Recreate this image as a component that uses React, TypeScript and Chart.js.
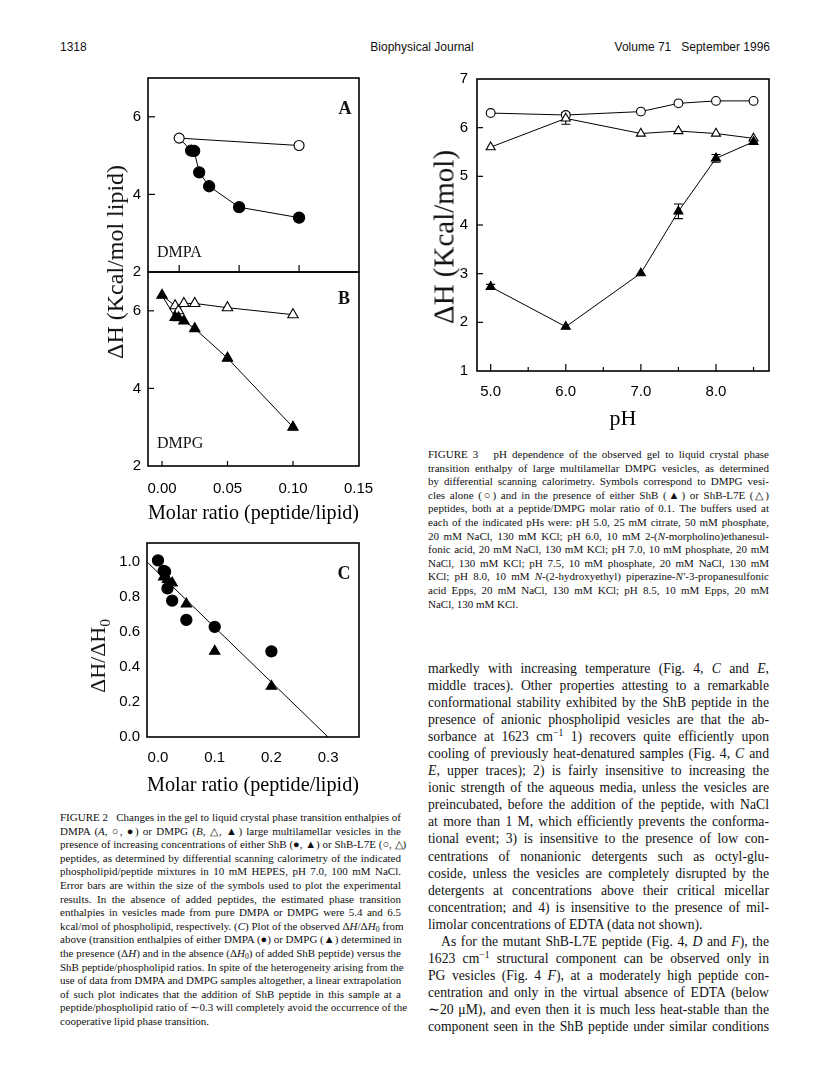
import React, { useEffect, useRef } from 'react';
import { Chart, registerables } from 'chart.js';

Chart.register(...registerables);

const SERIF = "'Liberation Serif', 'Times New Roman', Times, serif";
const SANS = "'Liberation Sans', Arial, Helvetica, sans-serif";

// ---------- Figure 2A (DMPA) ----------
const ratioA_L7E = [0, 0.1];
const dhA_L7E = [5.45, 5.26];
const ratioA_ShB = [0, 0.01, 0.0125, 0.0167, 0.025, 0.05, 0.1];
const dhA_ShB = [5.45, 5.13, 5.12, 4.57, 4.21, 3.67, 3.4];

// ---------- Figure 2B (DMPG) ----------
const ratioB = [0, 0.01, 0.0125, 0.0167, 0.025, 0.05, 0.1];
const dhB_L7E = [6.4, 6.13, 6.0, 6.19, 6.19, 6.08, 5.9];
const dhB_ShB = [6.4, 5.83, 5.82, 5.74, 5.54, 4.78, 3.0];

// ---------- Figure 2C ----------
const ratioC_DMPA = [0, 0.01, 0.0125, 0.0167, 0.025, 0.05, 0.1, 0.2];
const relC_DMPA = [1.01, 0.95, 0.945, 0.85, 0.78, 0.67, 0.63, 0.49];
const ratioC_DMPG = [0.01, 0.0167, 0.025, 0.05, 0.1, 0.2];
const relC_DMPG = [0.915, 0.9, 0.88, 0.76, 0.49, 0.29];
const fitC_x = [-0.019, 0.3];
const fitC_y = [1.0, 0.0];

// ---------- Figure 3 ----------
const pHs = [5.0, 6.0, 7.0, 7.5, 8.0, 8.5];
const dh3_DMPG = [6.3, 6.26, 6.33, 6.5, 6.55, 6.55];
const dh3_L7E = [5.6, 6.19, 5.88, 5.93, 5.88, 5.78];
const dh3_ShB = [2.73, 1.91, 3.01, 4.28, 5.37, 5.71];
const err3_L7E = [0, 0.12, 0, 0, 0, 0];
const err3_ShB = [0.05, 0, 0, 0.15, 0.08, 0.04];

// ---------- Tick values ----------
const ticksY_AB = [2, 4, 6];
const ticksX_B = [0, 0.05, 0.1, 0.15];
const marksX_AB = [0, 0.05, 0.1];
const marksY_AB = [4, 6];
const ticksY_C = [0, 0.2, 0.4, 0.6, 0.8, 1.0];
const ticksX_C = [0, 0.1, 0.2, 0.3];
const ticksY_3 = [1, 2, 3, 4, 5, 6, 7];
const ticksX_3 = [5, 6, 7, 8];
const marksY_3 = [2, 3, 4, 5, 6];
const minorX_3 = [5.5, 6.5, 7.5, 8.5];

// ---------- Text ----------
const fig2Caption = [
  'FIGURE 2\u00a0\u00a0 Changes in the gel to liquid crystal phase transition enthalpies of',
  'DMPA ([i:A], \u25cb, \u25cf) or DMPG ([i:B], \u25b3, \u25b2) large multilamellar vesicles in the',
  'presence of increasing concentrations of either ShB (\u25cf, \u25b2) or ShB-L7E (\u25cb, \u25b3)',
  'peptides, as determined by differential scanning calorimetry of the indicated',
  'phospholipid/peptide mixtures in 10 mM HEPES, pH 7.0, 100 mM NaCl.',
  'Error bars are within the size of the symbols used to plot the experimental',
  'results. In the absence of added peptides, the estimated phase transition',
  'enthalpies in vesicles made from pure DMPA or DMPG were 5.4 and 6.5',
  'kcal/mol of phospholipid, respectively. ([i:C]) Plot of the observed \u0394[i:H]/\u0394[i:H][sub:0] from',
  'above (transition enthalpies of either DMPA (\u25cf) or DMPG (\u25b2) determined in',
  'the presence (\u0394[i:H]) and in the absence (\u0394[i:H][sub:0]) of added ShB peptide) versus the',
  'ShB peptide/phospholipid ratios. In spite of the heterogeneity arising from the',
  'use of data from DMPA and DMPG samples altogether, a linear extrapolation',
  'of such plot indicates that the addition of ShB peptide in this sample at a',
  'peptide/phospholipid ratio of \u223c0.3 will completely avoid the occurrence of the',
  'cooperative lipid phase transition.',
];

const fig3Caption = [
  'FIGURE 3\u00a0\u00a0 pH dependence of the observed gel to liquid crystal phase',
  'transition enthalpy of large multilamellar DMPG vesicles, as determined',
  'by differential scanning calorimetry. Symbols correspond to DMPG vesi-',
  'cles alone (\u25cb) and in the presence of either ShB (\u25b2) or ShB-L7E (\u25b3)',
  'peptides, both at a peptide/DMPG molar ratio of 0.1. The buffers used at',
  'each of the indicated pHs were: pH 5.0, 25 mM citrate, 50 mM phosphate,',
  '20 mM NaCl, 130 mM KCl; pH 6.0, 10 mM 2-([i:N]-morpholino)ethanesul-',
  'fonic acid, 20 mM NaCl, 130 mM KCl; pH 7.0, 10 mM phosphate, 20 mM',
  'NaCl, 130 mM KCl; pH 7.5, 10 mM phosphate, 20 mM NaCl, 130 mM',
  'KCl; pH 8.0, 10 mM [i:N]-(2-hydroxyethyl) piperazine-[i:N\u2032]-3-propanesulfonic',
  'acid Epps, 20 mM NaCl, 130 mM KCl; pH 8.5, 10 mM Epps, 20 mM',
  'NaCl, 130 mM KCl.',
];

const bodyText = [
  'markedly with increasing temperature (Fig. 4, [i:C] and [i:E],',
  'middle traces). Other properties attesting to a remarkable',
  'conformational stability exhibited by the ShB peptide in the',
  'presence of anionic phospholipid vesicles are that the ab-',
  'sorbance at 1623 cm[sup:\u22121] 1) recovers quite efficiently upon',
  'cooling of previously heat-denatured samples (Fig. 4, [i:C] and',
  '[i:E], upper traces); 2) is fairly insensitive to increasing the',
  'ionic strength of the aqueous media, unless the vesicles are',
  'preincubated, before the addition of the peptide, with NaCl',
  'at more than 1 M, which efficiently prevents the conforma-',
  'tional event; 3) is insensitive to the presence of low con-',
  'centrations of nonanionic detergents such as octyl-glu-',
  'coside, unless the vesicles are completely disrupted by the',
  'detergents at concentrations above their critical micellar',
  'concentration; and 4) is insensitive to the presence of mil-',
  'limolar concentrations of EDTA (data not shown).',
  'As for the mutant ShB-L7E peptide (Fig. 4, [i:D] and [i:F]), the',
  '1623 cm[sup:\u22121] structural component can be observed only in',
  'PG vesicles (Fig. 4 [i:F]), at a moderately high peptide con-',
  'centration and only in the virtual absence of EDTA (below',
  '\u223c20 \u03bcM), and even then it is much less heat-stable than the',
  'component seen in the ShB peptide under similar conditions',
];

// ---------- Plugins ----------
const framePlugin = {
  id: 'frame',
  beforeDatasetsDraw(chart: any, _args: any, opts: any) {
    const { ctx, chartArea: a, scales } = chart;
    ctx.save();
    ctx.strokeStyle = '#000';
    ctx.lineWidth = 1.6;
    ctx.strokeRect(a.left, a.top, a.right - a.left, a.bottom - a.top);
    ctx.lineWidth = 1.2;
    for (const mk of opts.marks || []) {
      const s = scales[mk.axis];
      for (const v of mk.values) {
        const p = s.getPixelForValue(v);
        ctx.beginPath();
        if (mk.axis === 'x') {
          ctx.moveTo(p, a.bottom);
          ctx.lineTo(p, a.bottom - mk.len);
        } else {
          ctx.moveTo(a.left, p);
          ctx.lineTo(a.left + mk.len, p);
        }
        ctx.stroke();
      }
    }
    ctx.restore();
  },
};

const errorBarPlugin = {
  id: 'errorBars',
  beforeDatasetsDraw(chart: any) {
    const { ctx } = chart;
    const yScale = chart.scales.y;
    chart.data.datasets.forEach((ds: any, i: number) => {
      const errs = ds.errorBars;
      if (!errs) return;
      const meta = chart.getDatasetMeta(i);
      meta.data.forEach((pt: any, j: number) => {
        const e = errs[j];
        if (!e) return;
        const v = ds.data[j].y;
        const y1 = yScale.getPixelForValue(v - e);
        const y2 = yScale.getPixelForValue(v + e);
        ctx.save();
        ctx.strokeStyle = '#000';
        ctx.lineWidth = 1.1;
        ctx.beginPath();
        ctx.moveTo(pt.x, y1);
        ctx.lineTo(pt.x, y2);
        ctx.moveTo(pt.x - 4.5, y1);
        ctx.lineTo(pt.x + 4.5, y1);
        ctx.moveTo(pt.x - 4.5, y2);
        ctx.lineTo(pt.x + 4.5, y2);
        ctx.stroke();
        ctx.restore();
      });
    });
  },
};

// ---------- Helpers ----------
type Margins = { l: number; t: number; r: number; b: number };
type Plot = { L: number; T: number; R: number; B: number };
type AxisSpec = {
  min: number;
  max: number;
  ticks: number[];
  digits: number;
  pad: number;
  show: boolean;
  title?: string;
  titleSize?: number;
};

const pts = (xs: number[], ys: number[]) => xs.map((x, i) => ({ x, y: ys[i] }));

function series(xs: number[], ys: number[], shape: string, radius: any, filled: boolean, line: boolean, extra: any = {}) {
  return {
    data: pts(xs, ys),
    showLine: line,
    borderColor: '#000',
    borderWidth: 1,
    pointStyle: shape,
    pointRadius: radius,
    pointBackgroundColor: filled ? '#000' : '#fff',
    pointBorderColor: '#000',
    pointBorderWidth: 1.1,
    clip: false,
    ...extra,
  };
}

function buildOptions(m: Margins, x: AxisSpec, y: AxisSpec, marks: any[]) {
  const tickFont = { family: SANS, size: 15 };
  return {
    responsive: false,
    maintainAspectRatio: false,
    animation: false,
    events: [],
    layout: { padding: { left: 0, top: m.t, right: m.r, bottom: x.show ? 0 : m.b } },
    plugins: {
      legend: { display: false },
      tooltip: { enabled: false },
      frame: { marks },
    },
    scales: {
      x: {
        type: 'linear',
        position: 'bottom',
        min: x.min,
        max: x.max,
        display: x.show,
        grid: { display: false, drawTicks: false },
        border: { display: false },
        afterBuildTicks: (ax: any) => {
          ax.ticks = x.ticks.map((v) => ({ value: v }));
        },
        afterFit: x.show
          ? (ax: any) => {
              ax.height = m.b;
            }
          : undefined,
        ticks: {
          padding: x.pad,
          font: tickFont,
          color: '#000',
          autoSkip: false,
          maxRotation: 0,
          minRotation: 0,
          callback: (v: any) => Number(v).toFixed(x.digits),
        },
        title: x.title
          ? {
              display: true,
              text: x.title,
              color: '#000',
              padding: 0,
              font: { family: SERIF, size: x.titleSize, lineHeight: 1.4 },
            }
          : { display: false },
      },
      y: {
        type: 'linear',
        position: 'left',
        min: y.min,
        max: y.max,
        grid: { display: false, drawTicks: false },
        border: { display: false },
        afterBuildTicks: (ax: any) => {
          ax.ticks = y.ticks.map((v) => ({ value: v }));
        },
        afterFit: (ax: any) => {
          ax.width = m.l;
        },
        ticks: {
          padding: y.pad,
          font: tickFont,
          color: '#000',
          autoSkip: false,
          callback: (v: any) => Number(v).toFixed(y.digits),
        },
      },
    },
  };
}

function ChartCanvas({ plot, m, build }: { plot: Plot; m: Margins; build: () => any }) {
  const ref = useRef<HTMLCanvasElement>(null);
  const left = plot.L - m.l;
  const top = plot.T - m.t;
  const w = plot.R - plot.L + m.l + m.r;
  const h = plot.B - plot.T + m.t + m.b;
  useEffect(() => {
    const chart = new Chart(ref.current as HTMLCanvasElement, build());
    return () => chart.destroy();
  }, []);
  return (
    <canvas
      ref={ref}
      width={w}
      height={h}
      style={{ position: 'absolute', left, top, width: w, height: h }}
    />
  );
}

function Rich({ text }: { text: string }) {
  const parts: any[] = [];
  const re = /\[(i|sub|sup):([^\]]*)\]/g;
  let last = 0;
  let k = 0;
  let mm: RegExpExecArray | null;
  while ((mm = re.exec(text))) {
    if (mm.index > last) parts.push(text.slice(last, mm.index));
    const tag = mm[1];
    const content = mm[2];
    if (tag === 'i') parts.push(<i key={k++}>{content}</i>);
    else if (tag === 'sub')
      parts.push(
        <span key={k++} style={{ fontSize: '0.7em', position: 'relative', top: '0.3em' }}>
          {content}
        </span>
      );
    else
      parts.push(
        <span key={k++} style={{ fontSize: '0.7em', position: 'relative', top: '-0.5em' }}>
          {content}
        </span>
      );
    last = re.lastIndex;
  }
  if (last < text.length) parts.push(text.slice(last));
  return <>{parts}</>;
}

function Para(props: {
  x: number;
  y: number;
  width: number;
  size: number;
  lh: number;
  lines: string[];
  leftLines?: number[];
  indentLines?: number[];
}) {
  const { x, y, width, size, lh, lines, leftLines = [], indentLines = [] } = props;
  return (
    <div
      style={{
        position: 'absolute',
        left: x,
        top: y,
        width,
        fontFamily: SERIF,
        fontSize: size,
        lineHeight: `${lh}px`,
        color: '#111',
      }}
    >
      {lines.map((l, i) => {
        const left = leftLines.includes(i);
        return (
          <div
            key={i}
            style={{
              height: lh,
              whiteSpace: 'nowrap',
              textAlign: left ? 'left' : 'justify',
              textAlignLast: left ? 'left' : 'justify',
              paddingLeft: indentLines.includes(i) ? 13 : 0,
            } as any}
          >
            <Rich text={l} />
          </div>
        );
      })}
    </div>
  );
}

function Label({ x, y, children, style = {}, anchor = 'middle', rotate = false }: any) {
  const tx = anchor === 'start' ? '0' : anchor === 'end' ? '-100%' : '-50%';
  return (
    <div
      style={{
        position: 'absolute',
        left: x,
        top: y,
        transform: `translate(${tx}, -50%)${rotate ? ' rotate(-90deg)' : ''}`,
        whiteSpace: 'nowrap',
        lineHeight: 1,
        ...style,
      }}
    >
      {children}
    </div>
  );
}

// ---------- Geometry ----------
const plotA: Plot = { L: 148, T: 78, R: 359, B: 272 };
const mA: Margins = { l: 40, t: 20, r: 12, b: 20 };
const plotB: Plot = { L: 148, T: 272, R: 359, B: 466 };
const mB: Margins = { l: 40, t: 20, r: 30, b: 62 };
const plotC: Plot = { L: 147, T: 543, R: 359, B: 737 };
const mC: Margins = { l: 40, t: 20, r: 12, b: 63 };
const plot3: Plot = { L: 477, T: 79, R: 769, B: 371 };
const m3: Margins = { l: 40, t: 20, r: 12, b: 64 };

const buildA = () => ({
  type: 'scatter',
  data: {
    datasets: [
      series(ratioA_L7E, dhA_L7E, 'circle', 5, false, true),
      series(ratioA_ShB, dhA_ShB, 'circle', (c: any) => (c.dataIndex === 0 ? 0 : 5.6), true, true),
    ],
  },
  options: buildOptions(
    mA,
    { min: -0.026, max: 0.15, ticks: [], digits: 2, pad: 0, show: false },
    { min: 2, max: 7, ticks: ticksY_AB, digits: 0, pad: 7, show: true },
    [
      { axis: 'y', values: marksY_AB, len: 7 },
      { axis: 'x', values: marksX_AB, len: 7 },
    ]
  ),
  plugins: [framePlugin],
});

const buildB = () => ({
  type: 'scatter',
  data: {
    datasets: [
      series(ratioB, dhB_ShB, 'triangle', 6, true, true),
      series(ratioB, dhB_L7E, 'triangle', (c: any) => (c.dataIndex === 0 ? 0 : 6), false, true),
    ],
  },
  options: buildOptions(
    mB,
    {
      min: -0.0107,
      max: 0.1504,
      ticks: ticksX_B,
      digits: 2,
      pad: 14,
      show: true,
      title: 'Molar ratio (peptide/lipid)',
      titleSize: 21.5,
    },
    { min: 2, max: 7, ticks: ticksY_AB, digits: 0, pad: 7, show: true },
    [
      { axis: 'y', values: marksY_AB, len: 6 },
      { axis: 'x', values: marksX_AB, len: 5 },
    ]
  ),
  plugins: [framePlugin],
});

const buildC = () => ({
  type: 'scatter',
  data: {
    datasets: [
      series(ratioC_DMPA, relC_DMPA, 'circle', 5.6, true, false),
      series(ratioC_DMPG, relC_DMPG, 'triangle', 6, true, false),
      series(fitC_x, fitC_y, 'circle', 0, true, true),
    ],
  },
  options: buildOptions(
    mC,
    {
      min: -0.0194,
      max: 0.3545,
      ticks: ticksX_C,
      digits: 1,
      pad: 12,
      show: true,
      title: 'Molar ratio (peptide/lipid)',
      titleSize: 21.5,
    },
    { min: 0, max: 1.109, ticks: ticksY_C, digits: 1, pad: 7, show: true },
    []
  ),
  plugins: [framePlugin],
});

const build3 = () => ({
  type: 'scatter',
  data: {
    datasets: [
      series(pHs, dh3_ShB, 'triangle', 5.2, true, true, { errorBars: err3_ShB }),
      series(pHs, dh3_L7E, 'triangle', 5.2, false, true, { errorBars: err3_L7E }),
      series(pHs, dh3_DMPG, 'circle', 4.4, false, true),
    ],
  },
  options: buildOptions(
    m3,
    { min: 4.818, max: 8.706, ticks: ticksX_3, digits: 1, pad: 12, show: true, title: 'pH', titleSize: 22 },
    { min: 1, max: 7, ticks: ticksY_3, digits: 0, pad: 9, show: true },
    [
      { axis: 'y', values: marksY_3, len: 6 },
      { axis: 'x', values: ticksX_3, len: 7 },
      { axis: 'x', values: minorX_3, len: 4 },
    ]
  ),
  plugins: [framePlugin, errorBarPlugin],
});

export default function App() {
  return (
    <div
      style={{
        position: 'absolute',
        left: 0,
        top: 0,
        width: 816,
        height: 1071,
        background: '#fff',
        overflow: 'hidden',
        fontFamily: SERIF,
        color: '#111',
      }}
    >
      {/* running header */}
      <Label x={60} y={47} anchor="start" style={{ fontFamily: SANS, fontSize: 12 }}>
        1318
      </Label>
      <Label x={422} y={47} style={{ fontFamily: SANS, fontSize: 12 }}>
        Biophysical Journal
      </Label>
      <Label x={770} y={47} anchor="end" style={{ fontFamily: SANS, fontSize: 12, whiteSpace: 'pre' }}>
        {'Volume 71   September 1996'}
      </Label>

      {/* Figure 2 */}
      <ChartCanvas plot={plotA} m={mA} build={buildA} />
      <ChartCanvas plot={plotB} m={mB} build={buildB} />
      <ChartCanvas plot={plotC} m={mC} build={buildC} />
      <Label x={115} y={262} rotate style={{ fontSize: 24 }}>
        {'\u0394H (Kcal/mol lipid)'}
      </Label>
      <Label x={98} y={656} rotate style={{ fontSize: 22 }}>
        <span>
          {'\u0394H/\u0394H'}
          <span style={{ fontSize: '0.7em', position: 'relative', top: '0.3em' }}>0</span>
        </span>
      </Label>
      <Label x={345} y={108} style={{ fontSize: 18, fontWeight: 'bold' }}>
        A
      </Label>
      <Label x={344} y={298} style={{ fontSize: 18, fontWeight: 'bold' }}>
        B
      </Label>
      <Label x={344} y={573} style={{ fontSize: 18, fontWeight: 'bold' }}>
        C
      </Label>
      <Label x={157} y={252} anchor="start" style={{ fontSize: 16 }}>
        DMPA
      </Label>
      <Label x={157} y={443} anchor="start" style={{ fontSize: 16 }}>
        DMPG
      </Label>

      {/* Figure 3 */}
      <ChartCanvas plot={plot3} m={m3} build={build3} />
      <Label x={444} y={237} rotate style={{ fontSize: 29 }}>
        {'\u0394H (Kcal/mol)'}
      </Label>

      {/* captions and body */}
      <Para x={60} y={811} width={341} size={11} lh={13.6} lines={fig2Caption} leftLines={[15]} />
      <Para x={428} y={448} width={341} size={11} lh={13.6} lines={fig3Caption} leftLines={[11]} />
      <Para x={428} y={659.5} width={341} size={13.7} lh={17.1} lines={bodyText} leftLines={[15]} indentLines={[16]} />
    </div>
  );
}
